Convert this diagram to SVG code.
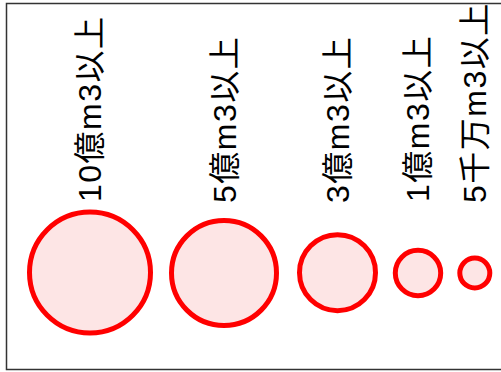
<svg xmlns="http://www.w3.org/2000/svg" width="501" height="372" viewBox="0 0 501 372">
<style>
.bubble{fill:#fde5e5;stroke:#ff0000;stroke-width:5}
.lbl{font-family:"Liberation Sans","Noto Sans CJK JP",sans-serif;font-size:32px;letter-spacing:1.5px;fill:#000;dominant-baseline:central}
</style>
<rect x="0" y="0" width="501" height="372" fill="#ffffff"/>
<rect x="6.5" y="3.5" width="520" height="366" fill="none" stroke="#333333" stroke-width="1.5"/>
<g id="connectors"/>
<g id="n1">
<circle class="bubble" cx="90" cy="272.5" r="60.5"/>
<text class="lbl" transform="translate(90,202) rotate(-90)">10億m3以上</text>
</g>
<g id="n2">
<circle class="bubble" cx="224" cy="273" r="52.5"/>
<text class="lbl" transform="translate(225,203) rotate(-90)">5億m3以上</text>
</g>
<g id="n3">
<circle class="bubble" cx="337.5" cy="272.7" r="38"/>
<text class="lbl" transform="translate(337.5,203) rotate(-90)">3億m3以上</text>
</g>
<g id="n4">
<circle class="bubble" cx="418" cy="273" r="22.7"/>
<text class="lbl" transform="translate(418,202) rotate(-90)">1億m3以上</text>
</g>
<g id="n5">
<circle class="bubble" cx="474.8" cy="273" r="15"/>
<text class="lbl" transform="translate(475,203) rotate(-90)">5千万m3以上</text>
</g>
</svg>
